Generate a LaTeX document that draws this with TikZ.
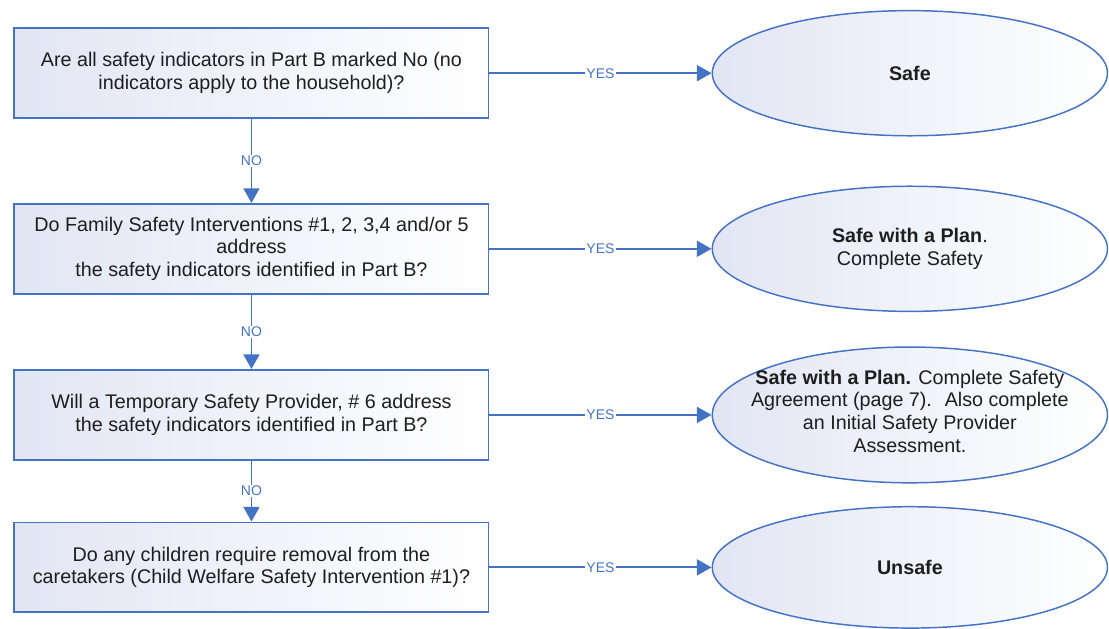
\documentclass[tikz,border=0pt]{standalone}
\usepackage{fontspec}
\setmainfont{Liberation Sans}
\usetikzlibrary{arrows.meta, positioning}
\usetikzlibrary{shapes.geometric}

\definecolor{lineblue}{RGB}{68,114,196}
\definecolor{shadeblue}{RGB}{226,230,244}
\definecolor{textgray}{RGB}{30,30,30}

\tikzset{
  question/.style={rectangle, draw=lineblue, line width=1.4pt, left color=shadeblue, right color=white,
    minimum width=12.5cm, minimum height=2.37cm, align=center, text=textgray,
    font=\fontsize{14.8}{17}\selectfont},
  outcome/.style={ellipse, draw=lineblue, line width=1.1pt, left color=shadeblue, right color=white,
    minimum width=10.42cm, minimum height=3.3cm, inner sep=0pt, align=center, text=textgray,
    font=\fontsize{14.8}{17}\selectfont},
  flow/.style={color=lineblue, line width=1.4pt, -{Triangle[length=11pt, width=12pt]}},
  answer/.style={fill=white, text=lineblue, inner sep=1pt, font=\fontsize{10.5}{12}\selectfont}
}

\begin{document}
\begin{tikzpicture}

\useasboundingbox (0,0) rectangle (29.24,16.56);

% QUESTIONS
\node[question] (allNo) at (6.63,14.63) {Are all safety indicators in Part B marked No (no\\indicators apply to the household)?};
\node[question] (familyInt) at (6.63,10.0) {Do Family Safety Interventions \#1, 2, 3,4 and/or 5\\address\\the safety indicators identified in Part B?};
\node[question] (tempProv) at (6.63,5.62) {Will a Temporary Safety Provider, \# 6 address\\the safety indicators identified in Part B?};
\node[question] (removal) at (6.63,1.6) {Do any children require removal from the\\caretakers (Child Welfare Safety Intervention \#1)?};

% OUTCOMES
\node[outcome] (safe) at (23.99,14.63) {\textbf{Safe}};
\node[outcome] (planA) at (23.99,10.0) {\textbf{Safe with a Plan}.\\Complete Safety};
\node[outcome, minimum height=3.58cm] (planB) at (23.99,5.62) {};
\node[align=center, text=textgray, font=\fontsize{14.8}{17}\selectfont] (planBtxt) at (23.99,5.72)
  {\textbf{Safe with a Plan.} Complete Safety\\Agreement (page 7).~ Also complete\\an Initial Safety Provider\\Assessment.};
\node[outcome, minimum height=3.2cm] (unsafe) at (23.99,1.6) {\textbf{Unsafe}};

% NO ARROWS
\path[flow] (allNo) edge node[answer] {NO} (familyInt);
\path[flow] (familyInt) edge node[answer] {NO} (tempProv);
\path[flow] (tempProv) edge node[answer] {NO} (removal);

% YES ARROWS
\path[flow] (allNo) edge node[answer] {YES} (safe);
\path[flow] (familyInt) edge node[answer] {YES} (planA);
\path[flow] (tempProv) edge node[answer] {YES} (planB);
\path[flow] (removal) edge node[answer] {YES} (unsafe);

\end{tikzpicture}
\end{document}
